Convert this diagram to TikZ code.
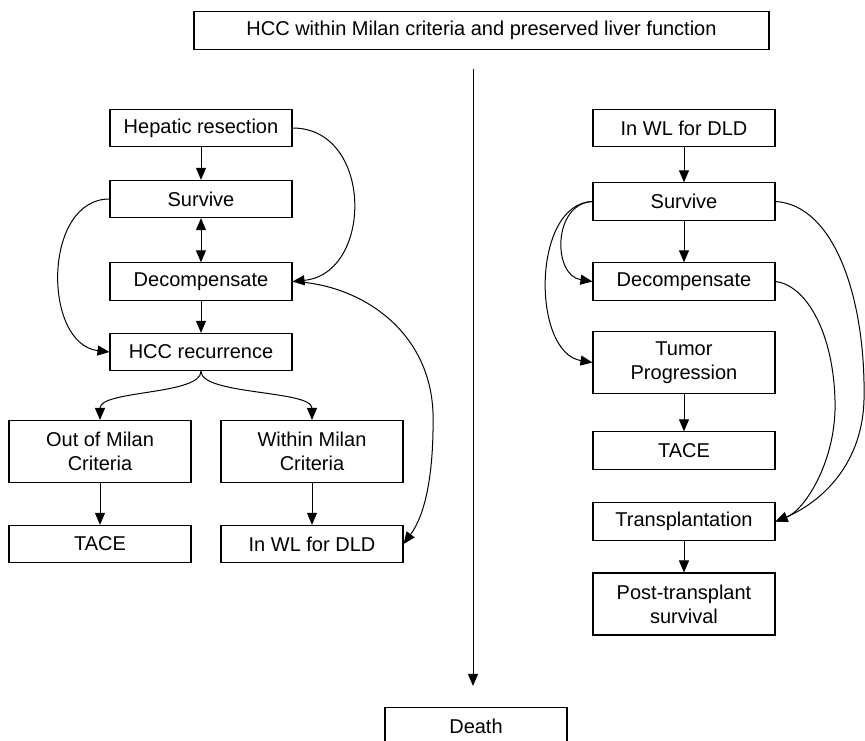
\documentclass[tikz,border=0pt]{standalone}
\usepackage{fontspec}
\setmainfont{Liberation Sans}
\usetikzlibrary{arrows.meta}
\begin{document}
\begin{tikzpicture}[x=0.75pt,y=-0.75pt,
  box/.style={draw, line width=0.8pt, minimum width=136.5pt, minimum height=28pt,
    inner sep=0pt, align=center, font=\fontsize{15}{18}\selectfont},
  tall/.style={minimum height=46.5pt},
  arr/.style={line width=0.75pt, -{Triangle[length=9pt,width=7.5pt]}},
  darr/.style={line width=0.75pt, {Triangle[length=9pt,width=7.5pt]}-{Triangle[length=9pt,width=7.5pt]}}]
\useasboundingbox (0,0) rectangle (865,741);
\clip (0,0) rectangle (865,741);

% top
\node[box, minimum width=431.25pt] (top) at (481.5,30.5) {HCC within Milan criteria and preserved liver function};

% left column
\node[box] (hr) at (201,128) {Hepatic resection};
\node[box] (ls) at (201,199) {Survive};
\node[box] (ld) at (201,281.5) {Decompensate};
\node[box] (lh) at (201,352) {HCC recurrence};
\node[box, tall] (out) at (100,451.5) {Out of Milan\\Criteria};
\node[box, tall] (within) at (312,451.5) {Within Milan\\Criteria};
\node[box] (ltace) at (100,544) {TACE};
\node[box] (lwl) at (312,544) {In WL for DLD};

% right column
\node[box] (rwl) at (684,128) {In WL for DLD};
\node[box] (rs) at (684,201.5) {Survive};
\node[box] (rd) at (684,281.5) {Decompensate};
\node[box, tall] (tp) at (684,362.5) {Tumor\\Progression};
\node[box] (rtace) at (684,450.5) {TACE};
\node[box] (tx) at (684,521.5) {Transplantation};
\node[box, tall] (pt) at (684,604) {Post-transplant\\survival};

% death
\node[box] (death) at (476,726) {Death};

% central arrow
\coordinate (vtop) at (473,69);
\coordinate (vend) at (473,686);
\draw[arr] (vtop) -- (vend);

% left connectors
\draw[arr] (hr) -- (ls);
\draw[darr] (ls) -- (ld);
\draw[arr] (ld) -- (lh);
\draw[arr] (out) -- (ltace);
\draw[arr] (within) -- (lwl);
\draw[arr] (hr.east) .. controls +(81,0) and +(81,-8) .. (ld.east);
\draw[arr] (ls.west) .. controls +(-67,0) and +(-67,-8) .. (lh.west);
\draw[arr] (lh.south) .. controls +(0,24) and +(0,-30) .. (out.north);
\draw[arr] (lh.south) .. controls +(0,24) and +(0,-30) .. (within.north);
\draw[arr] (ld.east) .. controls (360,284) and (430,330) .. (433,413)
  .. controls (434,475) and (425,515) .. (lwl.east);

% right connectors
\draw[arr] (rwl) -- (rs);
\draw[arr] (rs) -- (rd);
\draw[arr] (tp) -- (rtace);
\draw[arr] (tx) -- (pt);
\draw[arr] (rs.west) .. controls +(-40,2) and +(-40,-6) .. (rd.west);
\draw[arr] (rs.west) .. controls +(-61,2) and +(-61,-10) .. (tp.west);
\draw[arr] (rs.east) .. controls (835,205) and (866,300) .. (864,400)
  .. controls (862,470) and (815,505) .. (tx.east);
\draw[arr] (rd.east) .. controls (805,285) and (833,330) .. (835,400)
  .. controls (837,460) and (805,510) .. (tx.east);
\end{tikzpicture}
\end{document}
